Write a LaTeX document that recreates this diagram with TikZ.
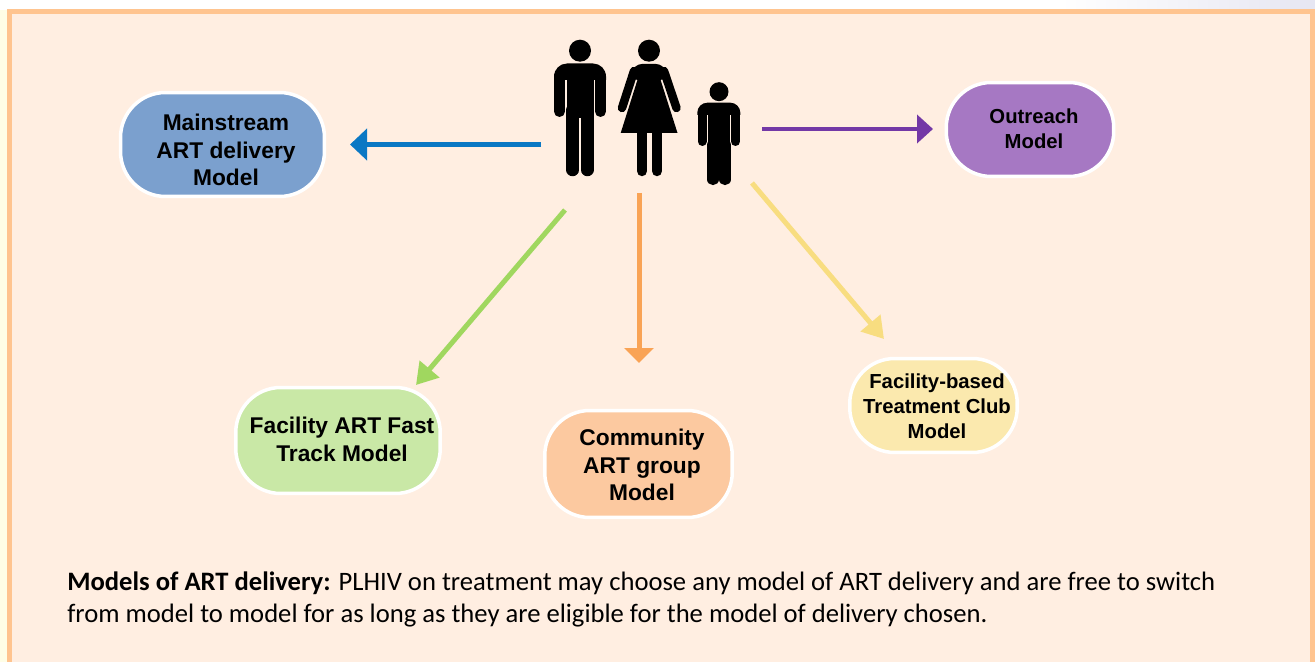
\documentclass[tikz,border=0pt]{standalone}
\usepackage{fontspec}
\setmainfont{Carlito}
\newfontfamily\boxfont{Liberation Sans}
\usetikzlibrary{arrows.meta}
\tikzset{
	modelbox/.style={draw=white, line width=0.07cm, rounded corners=0.9cm},
	bigtext/.style={align=center, inner sep=0pt, font=\boxfont\bfseries\fontsize{12.95}{15.8}\selectfont},
	smalltext/.style={align=center, inner sep=0pt, font=\boxfont\bfseries\fontsize{11.55}{14.1}\selectfont},
	limb/.style={line cap=round, black},
	link/.style={line width=#1},
}
\definecolor{pagepeach}{HTML}{FFEEE1}
\definecolor{edgepeach}{HTML}{FFC48F}
\definecolor{stripblue}{HTML}{E6E6F2}
\definecolor{bluebox}{HTML}{7BA0CE}
\definecolor{bluelink}{HTML}{0A78C4}
\definecolor{purplebox}{HTML}{A678C3}
\definecolor{purplelink}{HTML}{7338A6}
\definecolor{greenbox}{HTML}{C9E8A6}
\definecolor{greenlink}{HTML}{A0D75F}
\definecolor{orangebox}{HTML}{FCC9A0}
\definecolor{orangelink}{HTML}{F9A355}
\definecolor{yellowbox}{HTML}{FBE9AE}
\definecolor{yellowlink}{HTML}{F8DD80}
\begin{document}
\begin{tikzpicture}[x=0.02cm, y=-0.02cm]
	\useasboundingbox (0,0) rectangle (1315,662);
	% page behind the panel
	\fill[white] (0,0) rectangle (1315,10);
	\fill[left color=white, right color=stripblue] (1060,0) rectangle (1315,10);
	\fill[white!90!yellow] (0,10) rectangle (8,662);
	\fill[pagepeach] (8,10) rectangle (1315,662);
	\draw[edgepeach, line width=0.085cm] (9.5,662) -- (9.5,11.5) -- (1312.5,11.5) -- (1312.5,662);

	% man
	\fill (580,50.7) circle (11);
	\fill (554,80) [rounded corners=0.26cm] -- (554,63.5) -- (606,63.5) [sharp corners] -- (606,80) -- cycle;
	\fill (566.5,70) rectangle (593.5,118);
	\draw[limb, line width=0.22cm] (559.5,75) -- (559.5,111.5);
	\draw[limb, line width=0.22cm] (600.5,75) -- (600.5,111.5);
	\draw[limb, line width=0.25cm] (572.7,110) -- (572.7,170);
	\draw[limb, line width=0.25cm] (587.3,110) -- (587.3,170);
	% woman
	\fill (649,50.7) circle (11);
	\fill[rounded corners=0.16cm] (630,80) -- (634,64) -- (664,64) -- (668,80) -- cycle;
	\fill (639,75) -- (620.7,133) -- (677.5,133) -- (659,75) -- cycle;
	\draw[limb, line width=0.17cm] (634,71) -- (622,108);
	\draw[limb, line width=0.17cm] (664,71) -- (676.5,108);
	\draw[limb, line width=0.21cm] (642,130) -- (642,171);
	\draw[limb, line width=0.21cm] (657,130) -- (657,171);
	% child
	\fill (719,91.7) circle (9.5);
	\fill (697.3,115) [rounded corners=0.2cm] -- (697.3,102.7) -- (740.3,102.7) [sharp corners] -- (740.3,115) -- cycle;
	\fill (708,110) rectangle (730,148);
	\draw[limb, line width=0.18cm] (702,112) -- (702,141.5);
	\draw[limb, line width=0.18cm] (735.5,112) -- (735.5,141.5);
	\draw[limb, line width=0.225cm] (713,145) -- (713,179.5);
	\draw[limb, line width=0.225cm] (725,145) -- (725,179.5);

	\node[modelbox, fill=bluebox, minimum width=4.08cm, minimum height=2.08cm, label={[bigtext, xshift=0.07cm, yshift=-0.11cm]center:{Mainstream\\ART delivery\\Model}}] (mainstream) at (222.5,144.5) {};
	\node[modelbox, fill=purplebox, minimum width=3.35cm, minimum height=1.88cm, label={[smalltext, xshift=0.08cm, yshift=0.02cm]center:{Outreach\\Model}}] (outreach) at (1030,129.5) {};
	\node[modelbox, fill=greenbox, minimum width=4.09cm, minimum height=2.12cm, label={[bigtext, xshift=0.08cm, yshift=0.02cm]center:{Facility ART Fast\\Track Model}}] (fasttrack) at (338,440.5) {};
	\node[modelbox, fill=orangebox, minimum width=3.75cm, minimum height=2.14cm, label={[bigtext, xshift=0.07cm, yshift=-0.02cm]center:{Community\\ART group\\Model}}] (community) at (638.5,464) {};
	\node[modelbox, fill=yellowbox, minimum width=3.35cm, minimum height=1.88cm, label={[smalltext, xshift=0.07cm, yshift=-0.02cm]center:{Facility-based\\Treatment Club\\Model}}] (treatclub) at (933.5,405.5) {};

	\coordinate (mainstart) at (541,144.5);
	\coordinate (mainend) at (350,144.5);
	\coordinate (outstart) at (762,129);
	\coordinate (outend) at (933,129);
	\coordinate (faststart) at (565,210);
	\coordinate (fastend) at (416,385);
	\coordinate (commstart) at (639,193);
	\coordinate (commend) at (639,363);
	\coordinate (clubstart) at (752,183);
	\coordinate (clubend) at (884,339);

	\draw[-{Triangle[length=0.34cm,width=0.62cm]}, link=0.1cm, bluelink] (mainstart) -- (mainend);
	\draw[-{Triangle[length=0.32cm,width=0.56cm]}, link=0.08cm, purplelink] (outstart) -- (outend);
	\draw[-{Triangle[length=0.42cm,width=0.5cm]}, link=0.1cm, greenlink] (faststart) -- (fastend);
	\draw[-{Triangle[length=0.3cm,width=0.58cm]}, link=0.1cm, orangelink] (commstart) -- (commend);
	\draw[-{Triangle[length=0.42cm,width=0.5cm]}, link=0.1cm, yellowlink] (clubstart) -- (clubend);

	\node[anchor=north west, align=left, inner sep=0pt, font=\fontsize{15.15}{18.4}\selectfont] (caption) at (67,571) {\textbf{Models of ART delivery:} PLHIV on treatment may choose any model of ART delivery and are free to switch\\from model to model for as long as they are eligible for the model of delivery chosen.};
\end{tikzpicture}
\end{document}
